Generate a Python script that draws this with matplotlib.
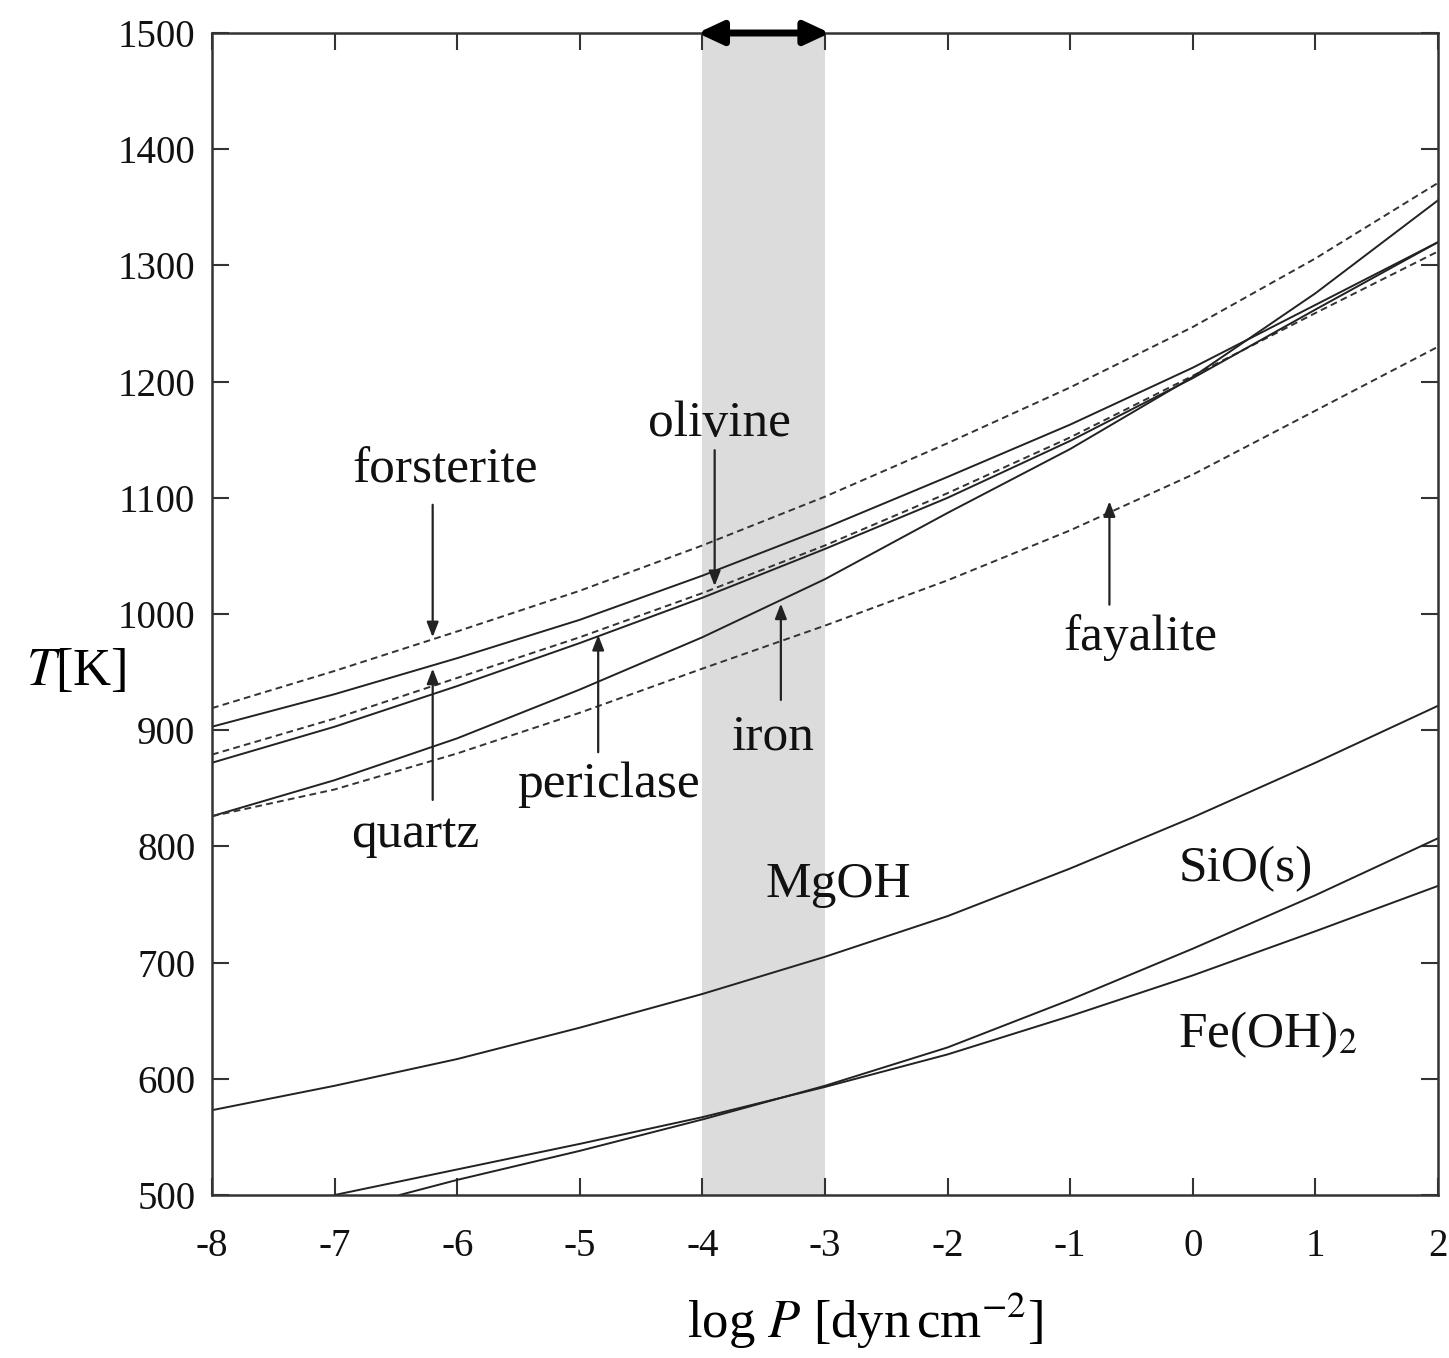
import matplotlib
matplotlib.use("Agg")
import matplotlib.pyplot as plt
import numpy as np

plt.rcParams['font.family'] = ['Liberation Serif', 'DejaVu Serif']
plt.rcParams['mathtext.fontset'] = 'stix'

# ---- data ----
logP = [-8, -7, -6, -5, -4, -3, -2, -1, 0, 1, 2]

forsterite = [919, 951, 985, 1020, 1059, 1101, 1147, 1195, 1247, 1306, 1371]   # dashed
quartz     = [903, 931, 962, 995, 1033, 1074, 1118, 1163, 1212, 1266, 1320]    # solid
periclase  = [879, 910, 945, 980, 1018, 1059, 1104, 1152, 1205, 1259, 1312]   # dashed
olivine    = [872, 903, 938, 975, 1014, 1056, 1100, 1149, 1203, 1262, 1320]   # solid
iron       = [826, 857, 893, 935, 980, 1030, 1087, 1142, 1204, 1276, 1356]    # solid
fayalite   = [826, 849, 880, 915, 953, 990, 1029, 1072, 1120, 1175, 1230]     # dashed

mgoh = [573, 594, 617, 644, 673, 705, 740, 781, 825, 872, 921]

sio_x = [-6.47, -6, -5, -4, -3, -2, -1, 0, 1, 2]
sio   = [500, 513, 538, 565, 594, 627, 668, 712, 758, 807]

feoh_x = [-7, -6, -5, -4, -3, -2, -1, 0, 1, 2]
feoh   = [500, 522, 544, 567, 593, 621, 654, 689, 727, 766]

band = [-4, -3]

xticks = [-8, -7, -6, -5, -4, -3, -2, -1, 0, 1, 2]
yticks = [500, 600, 700, 800, 900, 1000, 1100, 1200, 1300, 1400, 1500]

# labels: (text, x, y)
labels = [
    ("forsterite", -6.10, 1124),
    ("olivine", -3.86, 1164),
    ("quartz", -6.34, 810),
    ("periclase", -4.77, 853),
    ("iron", -3.42, 894),
    ("fayalite", -0.43, 980),
    ("MgOH", -2.89, 767),
    ("SiO(s)", 0.43, 781),
    (r"Fe(OH)$_2$", 0.61, 638),
]
# arrows: (x, y_start, y_end)
arrows = [
    (-6.2, 1094, 980),
    (-6.2, 840, 953),
    (-4.85, 881, 982),
    (-3.9, 1141, 1024),
    (-3.36, 926, 1009),
    (-0.68, 1008, 1097),
]

fig = plt.figure(figsize=(14.49, 13.58), dpi=100)
ax = fig.add_axes([212/1449, 163/1358, 1226/1449, 1162/1358])

ax.axvspan(band[0], band[1], color='#dcdcdc', zorder=0, lw=0)

lw = 1.4
dash = (0, (3.5, 2.2))
ax.plot(logP, forsterite, color='#333333', lw=lw, linestyle=dash)
ax.plot(logP, quartz, color='#222222', lw=lw)
ax.plot(logP, periclase, color='#333333', lw=lw, linestyle=dash)
ax.plot(logP, olivine, color='#222222', lw=lw)
ax.plot(logP, iron, color='#222222', lw=lw)
ax.plot(logP, fayalite, color='#333333', lw=lw, linestyle=dash)
ax.plot(logP, mgoh, color='#222222', lw=lw)
ax.plot(sio_x, sio, color='#222222', lw=lw)
ax.plot(feoh_x, feoh, color='#222222', lw=lw)

for t, x, y in labels:
    ax.text(x, y, t, fontsize=37, ha='center', va='center', color='#111111')

for x, y0, y1 in arrows:
    ax.annotate("", xy=(x, y1), xytext=(x, y0),
                arrowprops=dict(arrowstyle='-|>,head_length=0.9,head_width=0.35',
                                color='#222222', lw=1.6, shrinkA=0, shrinkB=0))

# double arrow on the top
ax.annotate("", xy=(band[0] - 0.04, 1500), xytext=(band[1] + 0.04, 1500),
            arrowprops=dict(arrowstyle='<|-|>,head_length=1.5,head_width=0.7',
                            color='black', lw=5, shrinkA=0, shrinkB=0),
            annotation_clip=False)

ax.set_xlim(-8, 2)
ax.set_ylim(500, 1500)
ax.set_xticks(xticks)
ax.set_yticks(yticks)
ax.set_xticklabels([str(v) for v in xticks])
ax.set_yticklabels([str(v) for v in yticks])
ax.tick_params(direction='in', length=12, width=1.5, top=True, right=True,
               labelsize=28, colors='#333333', labelcolor='#111111')
ax.tick_params(axis='x', pad=24)
ax.tick_params(axis='y', pad=12)
for s in ax.spines.values():
    s.set_linewidth(1.8)
    s.set_color('#333333')

ax.set_xlabel(r"log $P$ [dyn$\,$cm$^{-2}$]", fontsize=38, va='center')
ax.xaxis.set_label_coords(0.533, -0.108)
ax.text(-0.111, 0.45, r"$T$[K]", transform=ax.transAxes, fontsize=38,
        ha='center', va='center')

fig.savefig("out.png", dpi=100)
